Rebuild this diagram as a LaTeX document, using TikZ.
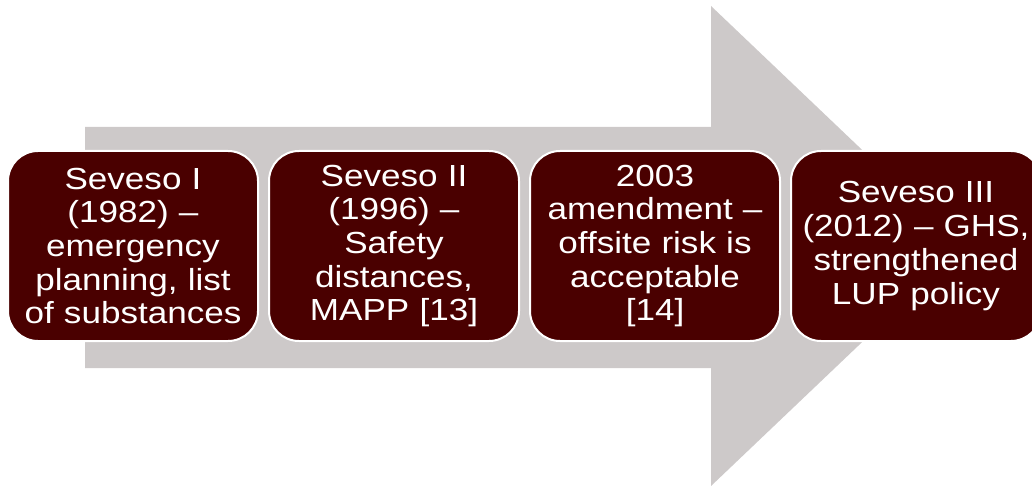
\documentclass[tikz,border=0pt]{standalone}
\usepackage{fontspec}
\setmainfont[FakeStretch=1.15]{Liberation Sans}
\usetikzlibrary{positioning}
\definecolor{arrowgray}{HTML}{CDC9C9}
\definecolor{maroon}{HTML}{4A0000}
\begin{document}
\begin{tikzpicture}[x=1pt, y=-1pt, node distance=9pt,
    stage/.style={draw=white, line width=2pt, fill=maroon, rounded corners=30pt,
        text=white, align=center, text width=235pt, inner xsep=7.5pt,
        minimum width=250pt, minimum height=190pt,
        font=\fontsize{30.5}{33.7}\selectfont}]
    \useasboundingbox (0,0) rectangle (1032,486);
    \clip (0,0) rectangle (1032,486);
    \fill[arrowgray] (85,127) -- (711,127) -- (711,6) -- (963,246) -- (711,486)
        -- (711,368) -- (85,368) -- cycle;
    \node[stage] (sev1) at (133,246) {Seveso I\\(1982) –\\emergency\\planning, list\\of substances};
    \node[stage, right=of sev1] (sev2) {Seveso II\\(1996) –\\Safety\\distances,\\MAPP [13]};
    \node[stage, right=of sev2] (amend) {2003\\amendment –\\offsite risk is\\acceptable\\[0pt][14]};
    \node[stage, right=of amend] (sev3) {Seveso III\\(2012) – GHS,\\strengthened\\LUP policy};
\end{tikzpicture}
\end{document}
